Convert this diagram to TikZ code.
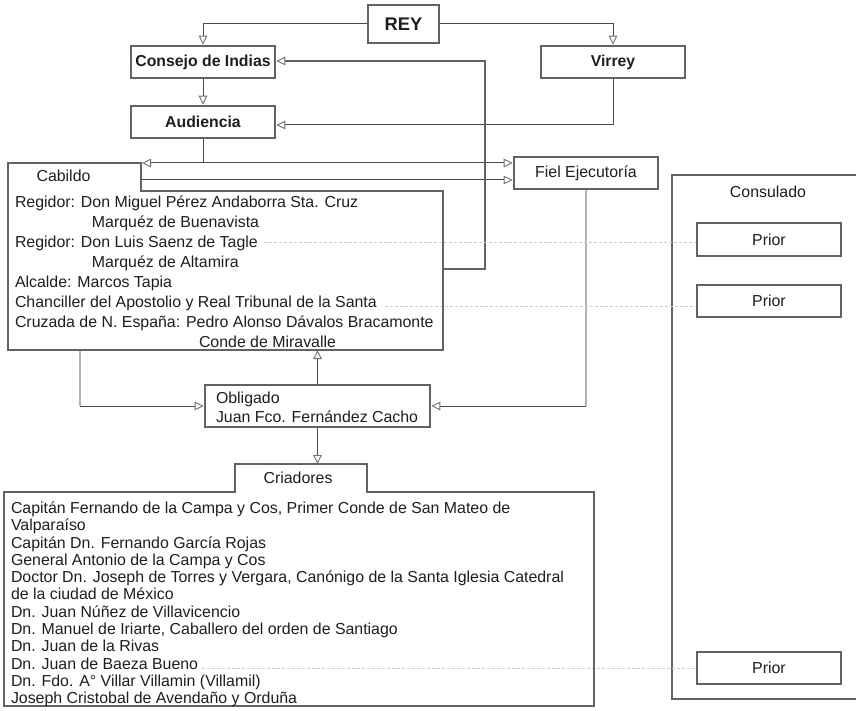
\documentclass[tikz,border=0pt]{standalone}
\usepackage{fontspec}
\setmainfont{Liberation Sans}
\usetikzlibrary{arrows.meta,calc}
\definecolor{boxc}{HTML}{636363}
\definecolor{linec}{HTML}{4A4A4A}
\definecolor{lightc}{HTML}{B4B4B4}
\definecolor{dashcol}{HTML}{CCCCCC}
\definecolor{arc}{HTML}{707070}
\definecolor{txt}{HTML}{1E1E1E}
\tikzset{
  box/.style={draw=boxc, line width=2.6pt, fill=white, inner sep=0pt, text=txt},
  bfont/.style={font=\fontsize{15.8}{18}\selectfont\bfseries},
  nfont/.style={font=\fontsize{15.9}{18}\selectfont},
  conn/.style={draw=linec, line width=1pt},
  thickconn/.style={draw=boxc, line width=2.6pt},
  lightconn/.style={draw=lightc, line width=1.1pt},
  dashconn/.style={draw=dashcol, line width=0.7pt, dash pattern=on 3pt off 2pt},
  ar/.style={-{Triangle[open,length=9pt,width=8.5pt,line width=0.9pt,color=arc]}},
  arb/.style={{Triangle[open,length=9pt,width=8.5pt,line width=0.9pt,color=arc]}-{Triangle[open,length=9pt,width=8.5pt,line width=0.9pt,color=arc]}},
  ghost/.style={inner sep=0pt, outer sep=0pt},
}
\begin{document}
\begin{tikzpicture}[x=1pt,y=-1pt]
\useasboundingbox (0,0) rectangle (856,711);

% --- boxes ---
\node[box, minimum width=71pt, minimum height=38pt, font=\fontsize{18.3}{20}\selectfont\bfseries] (rey) at (403.5,24) {REY};
\node[box, bfont, minimum width=144pt, minimum height=32pt] (consejo) at (203,62) {Consejo de Indias};
\node[box, bfont, minimum width=144pt, minimum height=32pt] (virrey) at (613,62) {Virrey};
\node[box, bfont, minimum width=144pt, minimum height=32pt] (audiencia) at (203,122) {Audiencia};
\node[box, nfont, minimum width=144pt, minimum height=32pt] (fiel) at (586,173) {Fiel Ejecutoría};

% Cabildo (tab + main box)
\node[ghost, minimum width=133pt, minimum height=28pt] (cabtab) at (74.5,177) {};
\node[ghost, minimum width=435pt, minimum height=159pt] (cabildo) at (225.5,270.5) {};

% Criadores (tab + main box)
\node[ghost, minimum width=132pt, minimum height=28pt] (critab) at (301,478) {};
\node[ghost, minimum width=590pt, minimum height=214pt] (criadores) at (299,599) {};

\node[box, minimum width=225pt, minimum height=42pt] (obligado) at (317.5,406) {};

% Consulado
\node[box, minimum width=194pt, minimum height=524pt] (consulado) at (769,437) {};
\node[nfont, text=txt, inner sep=0pt] (consuladolbl) at (768,192) {Consulado};
\node[box, nfont, minimum width=144pt, minimum height=33pt] (prior1) at (769,239.5) {Prior};
\node[box, nfont, minimum width=144pt, minimum height=32pt] (prior2) at (769,301) {Prior};
\node[box, nfont, minimum width=144pt, minimum height=32pt] (prior3) at (769,668) {Prior};

% --- connectors ---
\draw[conn, ar] (rey.west) -| (consejo.north);
\draw[conn, ar] (rey.east) -| (virrey.north);
\draw[conn, ar] (consejo.south) -- (audiencia.north);
\draw[conn, ar] (virrey.south) |- ([yshift=-3pt]audiencia.east);
\draw[conn] (audiencia.south) -- (audiencia.south |- cabtab.north);
\draw[conn, arb] ([xshift=1pt]cabtab.north east) -- (fiel.west |- cabtab.north east);
\coordinate (cabmid) at ([yshift=-3pt]cabtab.east);
\draw[conn, ar] (cabmid) -- (fiel.west |- cabmid);
\coordinate (bend1) at (485,269);
\draw[thickconn, ar] (cabildo.east |- bend1) -- (bend1) |- ([yshift=1pt]consejo.east);

\coordinate (cdown) at ([xshift=72pt]cabildo.south west);
\draw[lightconn] (cdown) -- (cdown |- obligado.west);
\draw[conn, ar] (cdown |- obligado.west) -- (obligado.west);
\draw[conn, ar] (obligado.north) -- (obligado.north |- cabildo.south);
\draw[lightconn] (fiel.south) -- (fiel.south |- obligado.east);
\draw[conn, ar] (fiel.south |- obligado.east) -- (obligado.east);
\draw[conn, ar] (obligado.south) -- (obligado.south |- critab.north);

% dashed links to Prior
\coordinate (d1) at (264,242);
\coordinate (d2) at (385,306);
\coordinate (d3) at (202,668);
\draw[dashconn] (d1) -- (prior1.west |- d1);
\draw[dashconn] (d2) -- (prior2.west |- d2);
\draw[dashconn] (d3) -- (prior3.west |- d3);

% outlines of tabbed boxes
\draw[draw=boxc, line width=2.6pt, line join=miter]
  (cabtab.north west) -- (cabtab.north east) -- (cabtab.south east)
  -- (cabildo.north east) -- (cabildo.south east) -- (cabildo.south west) -- cycle;
\draw[draw=boxc, line width=2.6pt, line join=miter]
  (criadores.north west) -- (critab.south west) -- (critab.north west) -- (critab.north east)
  -- (critab.south east) -- (criadores.north east) -- (criadores.south east)
  -- (criadores.south west) -- cycle;

% --- texts ---
\node[nfont, text=txt, inner sep=0pt] (cabildolbl) at (63.5,176) {Cabildo};
\node[ghost, anchor=base west, align=left, text=txt, font=\fontsize{15.9}{20}\selectfont] (cabildotxt) at (15,347.6)
 {Regidor: Don Miguel Pérez Andaborra Sta. Cruz\\
  \hspace*{77pt}Marquéz de Buenavista\\
  Regidor: Don Luis Saenz de Tagle\\
  \hspace*{77pt}Marquéz de Altamira\\
  Alcalde: Marcos Tapia\\
  Chanciller del Apostolio y Real Tribunal de la Santa\\
  Cruzada de N. España: Pedro Alonso Dávalos Bracamonte\\
  \hspace*{184pt}Conde de Miravalle};
\node[ghost, anchor=base west, align=left, text=txt, font=\fontsize{15.9}{19}\selectfont] (obligadotxt) at (216,422.6)
 {Obligado\\Juan Fco. Fernández Cacho};
\node[nfont, text=txt, inner sep=0pt] (criadoreslbl) at (298,478) {Criadores};
\node[ghost, anchor=base west, align=left, text=txt, font=\fontsize{15.9}{17.27}\selectfont] (criadorestxt) at (11,703.6)
 {Capitán Fernando de la Campa y Cos, Primer Conde de San Mateo de\\
  Valparaíso\\
  Capitán Dn. Fernando García Rojas\\
  General Antonio de la Campa y Cos\\
  Doctor Dn. Joseph de Torres y Vergara, Canónigo de la Santa Iglesia Catedral\\
  de la ciudad de México\\
  Dn. Juan Núñez de Villavicencio\\
  Dn. Manuel de Iriarte, Caballero del orden de Santiago\\
  Dn. Juan de la Rivas\\
  Dn. Juan de Baeza Bueno\\
  Dn. Fdo. A° Villar Villamin (Villamil)\\
  Joseph Cristobal de Avendaño y Orduña};
\end{tikzpicture}
\end{document}
